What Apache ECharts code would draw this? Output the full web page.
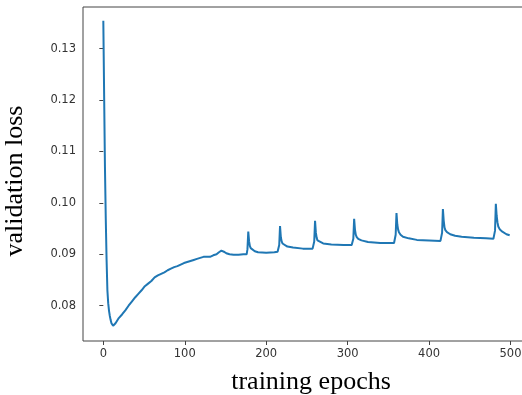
<!DOCTYPE html>
<html>
<head>
<meta charset="utf-8">
<script src="https://cdn.jsdelivr.net/npm/echarts@6/dist/echarts.min.js"></script>
<style>html,body{margin:0;padding:0;background:#fff;}#c{width:522px;height:395px;}</style>
</head>
<body>
<div id="c"></div>
<script>
// epochs and validation loss
var epochs = [0,1,2,3,4,5,6,7,8,9,10,11,12,13,15,17,19,21,23,25,27,29,31,33,35,37,39,41,43,45,47,49,51,53,55,57,59,61,63,65,67,69,71,73,75,77,79,81,83,85,87,89,91,93,95,97,99,101,103,105,107,109,111,113,115,117,119,121,123,125,127,129,131,133,135,137,139,142,145,148,151,155,160,166,172,
176,177,178,179,180,181,183,186,190,200,210,214,
215,216,217,218,219,220,222,226,233,245,257,
258,259,260,261,262,263,265,270,280,295,305,
306,307,308,309,310,311,313,317,325,340,357,
358,359,360,361,362,363,365,368,375,385,400,414,
415,416,417,418,419,420,422,426,432,440,455,470,479,
480,481,482,483,484,485,487,490,495,499];
var loss = [0.1354,0.121,0.107,0.097,0.089,0.083,0.0805,0.0790,0.0780,0.0772,0.0766,0.0763,0.0761,0.0760,0.0766,0.0768,0.0776,0.0774,0.0783,0.0781,0.0791,0.0789,0.0800,0.0799,0.0808,0.0806,0.0816,0.0815,0.0823,0.0821,0.0830,0.0829,0.0838,0.0836,0.0843,0.0842,0.0848,0.0849,0.0855,0.0853,0.0859,0.0858,0.0862,0.0860,0.0865,0.0864,0.0869,0.0867,0.0872,0.0871,0.0875,0.0874,0.0877,0.0877,0.0880,0.0879,0.0883,0.0881,0.0885,0.0884,0.0887,0.0886,0.0889,0.0889,0.0891,0.0892,0.0893,0.0894,0.0895,0.0894,0.0895,0.0896,0.0895,0.0896,0.0898,0.0899,0.0900,0.0904,0.0907,0.0905,0.0902,0.0900,0.0899,0.0899,0.0900,
0.0900,0.0910,0.0944,0.0925,0.0916,0.0912,0.0909,0.0906,0.0904,0.0903,0.0904,0.0905,
0.0906,0.0918,0.0955,0.0933,0.0925,0.0921,0.0918,0.0915,0.0913,0.0911,0.0911,
0.0911,0.0925,0.0965,0.0942,0.0932,0.0927,0.0924,0.0921,0.0919,0.0918,0.0918,
0.0918,0.0930,0.0969,0.0948,0.0938,0.0934,0.0930,0.0927,0.0924,0.0922,0.0922,
0.0923,0.0938,0.0980,0.0958,0.0948,0.0943,0.0938,0.0934,0.0931,0.0928,0.0927,0.0926,
0.0926,0.0942,0.0988,0.0965,0.0952,0.0947,0.0943,0.0939,0.0936,0.0934,0.0932,0.0931,0.0930,
0.0930,0.0946,0.0998,0.0975,0.0962,0.0954,0.0948,0.0944,0.0939,0.0937];
var xTicks = [0,100,200,300,400,500];
var yTicks = [0.08,0.09,0.10,0.11,0.12,0.13];

var data = epochs.map(function(e,i){return [e, loss[i]];});
var chart = echarts.init(document.getElementById('c'), null, {renderer:'canvas'});
var tickFont = {fontFamily:'DejaVu Sans', fontSize:11.5, color:'#333'};
chart.setOption({
  animation:false,
  backgroundColor:'#fff',
  grid:{left:83, top:7, width:447, height:334, outerBoundsMode:'none', containLabel:false,
        show:true, borderColor:'#444', borderWidth:1, backgroundColor:'transparent'},
  xAxis:{
    type:'value', min:-24.95, max:523.95,
    name:'training epochs', nameLocation:'middle', nameGap:28,
    nameTextStyle:{fontFamily:'Liberation Serif', fontSize:26, color:'#000', padding:[0,0,0,9]},
    axisLine:{show:false},
    axisTick:{show:true, length:4, inside:false, lineStyle:{color:'#444', width:1}, customValues:xTicks},
    axisLabel:Object.assign({margin:7, customValues:xTicks, formatter:function(v){return String(v);}}, tickFont),
    splitLine:{show:false}
  },
  yAxis:{
    type:'value', min:0.07314, max:0.13808,
    name:'validation loss', nameLocation:'middle', nameGap:55,
    nameTextStyle:{fontFamily:'Liberation Serif', fontSize:26, color:'#000', padding:[0,14,0,0]},
    axisLine:{show:false},
    axisTick:{show:true, length:4, inside:false, lineStyle:{color:'#444', width:1}, customValues:yTicks},
    axisLabel:Object.assign({margin:7, customValues:yTicks, formatter:function(v){return v.toFixed(2);}}, tickFont),
    splitLine:{show:false}
  },
  series:[{
    type:'line', data:data, showSymbol:false, symbol:'none',
    lineStyle:{color:'#1f77b4', width:2}, clip:true
  }]
});
</script>
</body>
</html>
